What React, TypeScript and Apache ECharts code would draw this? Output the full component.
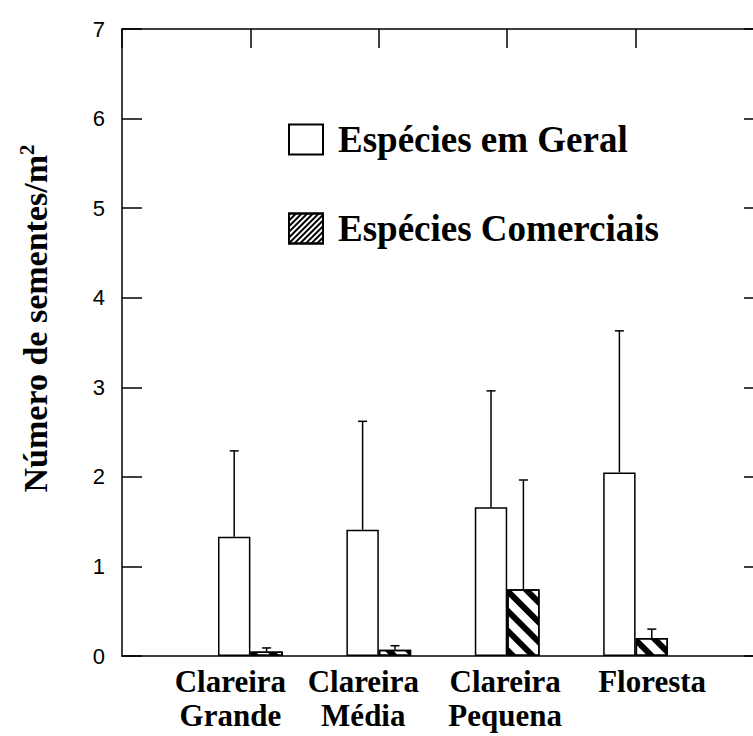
import React, { useEffect, useRef } from "react";
import * as echarts from "echarts";

// Seed density per habitat (mean and upper limit of the error bar)
const categories = ["Clareira\nGrande", "Clareira\nMédia", "Clareira\nPequena", "Floresta"];
const positions = [1, 2, 3, 4];
const geralMean = [1.33, 1.41, 1.66, 2.05];
const geralUpper = [2.29, 2.62, 2.96, 3.63];
const comerciaisMean = [0.05, 0.07, 0.745, 0.2];
const comerciaisUpper = [0.09, 0.115, 1.965, 0.3];
const yTicks = [0, 1, 2, 3, 4, 5, 6, 7];

const serif = "'Liberation Serif', 'Times New Roman', serif";
const sans = "'Liberation Sans', Arial, Helvetica, sans-serif";
const BAR_W = 32.4;

// horizontal nudge (px) of each category caption from its tick position
const labelShift = [-20, -15.5, -2, 16.5];

const barDecal = {
  symbol: "rect",
  symbolSize: 1,
  dashArrayX: [1, 0],
  dashArrayY: [6, 8],
  rotation: Math.PI / 4,
  color: "#000",
  backgroundColor: "#fff",
};

const legendDecal = {
  symbol: "rect",
  symbolSize: 1,
  dashArrayX: [1, 0],
  dashArrayY: [1.5, 2],
  rotation: -Math.PI / 4,
  color: "#000",
  backgroundColor: "#fff",
};

function errorSeries(mean: number[], upper: number[], offset: number) {
  return {
    type: "custom",
    xAxisIndex: 0,
    yAxisIndex: 0,
    z: 5,
    silent: true,
    data: positions.map((p, i) => [p, mean[i], upper[i]]),
    renderItem: (_params: any, api: any) => {
      const x = api.value(0);
      const base = api.coord([x, api.value(1)]);
      const top = api.coord([x, api.value(2)]);
      const cx = base[0] + offset;
      const style = { stroke: "#000", lineWidth: 1.5 };
      return {
        type: "group",
        children: [
          { type: "line", shape: { x1: cx, y1: base[1], x2: cx, y2: top[1] }, style },
          { type: "line", shape: { x1: cx - 4.5, y1: top[1], x2: cx + 4.5, y2: top[1] }, style },
        ],
      };
    },
  };
}

const axisLineStyle = { color: "#000", width: 1.5 };

export default function App() {
  const ref = useRef<HTMLDivElement>(null);

  useEffect(() => {
    if (!ref.current) return;
    const chart = echarts.init(ref.current, null, { renderer: "svg" });

    chart.setOption({
      animation: false,
      backgroundColor: "#fff",
      grid: { left: 122, top: 29, width: 642, height: 627 },
      legend: {
        orient: "vertical",
        left: 283,
        top: 116,
        itemWidth: 34,
        itemHeight: 30,
        itemGap: 52,
        selectedMode: false,
        textStyle: {
          fontFamily: serif,
          fontWeight: "bold",
          fontSize: 37,
          color: "#000",
          padding: [0, 0, 0, 10],
        },
        data: [
          { name: "Espécies em Geral", icon: "rect" },
          { name: "Espécies Comerciais", icon: "rect", itemStyle: { decal: legendDecal } },
        ],
      },
      xAxis: [
        {
          type: "value",
          position: "bottom",
          min: 0,
          max: 5,
          interval: 1,
          splitLine: { show: false },
          axisLine: { show: true, onZero: false, lineStyle: axisLineStyle },
          axisTick: { show: false },
          axisLabel: { show: false },
        },
        {
          type: "value",
          position: "top",
          min: 0,
          max: 5,
          interval: 1,
          splitLine: { show: false },
          axisLine: { show: true, onZero: false, lineStyle: axisLineStyle },
          axisTick: { show: true, inside: true, length: 19, lineStyle: axisLineStyle },
          axisLabel: { show: false },
        },
      ],
      yAxis: [
        {
          type: "value",
          position: "left",
          min: 0,
          max: 7,
          interval: 1,
          splitLine: { show: false },
          axisLine: { show: true, onZero: false, lineStyle: axisLineStyle },
          axisTick: { show: true, inside: true, length: 20, lineStyle: axisLineStyle },
          axisLabel: {
            margin: 17,
            fontFamily: sans,
            fontSize: 22,
            color: "#000",
            formatter: (v: number) => (yTicks.includes(v) ? String(v) : ""),
          },
          name: "{t|Número de sementes/m}{s|2}",
          nameLocation: "middle",
          nameGap: 68,
          nameRotate: 90,
          nameTextStyle: {
            padding: [0, 0, 0, 48],
            rich: {
              t: { fontFamily: serif, fontWeight: "bold", fontSize: 34, lineHeight: 38, color: "#000" },
              s: { fontFamily: serif, fontWeight: "bold", fontSize: 21, lineHeight: 38, verticalAlign: "top", color: "#000" },
            },
          },
        },
        {
          type: "value",
          position: "right",
          min: 0,
          max: 7,
          interval: 1,
          splitLine: { show: false },
          axisLine: { show: true, onZero: false, lineStyle: axisLineStyle },
          axisTick: { show: true, inside: true, length: 20, lineStyle: axisLineStyle },
          axisLabel: { show: false },
        },
      ],
      series: [
        {
          name: "Espécies em Geral",
          type: "bar",
          xAxisIndex: 0,
          yAxisIndex: 0,
          barWidth: BAR_W,
          barGap: "0%",
          data: positions.map((p, i) => [p, geralMean[i]]),
          itemStyle: { color: "#fff", borderColor: "#000", borderWidth: 1.5 },
        },
        {
          name: "Espécies Comerciais",
          type: "bar",
          xAxisIndex: 0,
          yAxisIndex: 0,
          barWidth: BAR_W,
          barGap: "0%",
          data: positions.map((p, i) => [p, comerciaisMean[i]]),
          itemStyle: { color: "#fff", borderColor: "#000", borderWidth: 1.5, decal: barDecal },
        },
        errorSeries(geralMean, geralUpper, -BAR_W / 2),
        errorSeries(comerciaisMean, comerciaisUpper, BAR_W / 2),
      ],
    });

    // category captions under the axis, placed from the axis scale
    const baseY = chart.convertToPixel({ yAxisIndex: 0 }, 0) as number;
    chart.setOption({
      graphic: positions.map((p, i) => ({
        type: "text",
        x: (chart.convertToPixel({ xAxisIndex: 0 }, p) as number) + labelShift[i],
        y: baseY + 8,
        style: {
          text: categories[i],
          fill: "#000",
          fontFamily: serif,
          fontWeight: "bold",
          fontSize: 31,
          lineHeight: 34,
          align: "center",
          verticalAlign: "top",
        },
      })),
    });

    return () => chart.dispose();
  }, []);

  // the plot frame runs past the right edge of the visible area, so the
  // chart canvas is wider than its clipping box
  return (
    <div
      style={{
        position: "fixed",
        left: 0,
        top: 0,
        width: 753,
        height: 736,
        overflow: "hidden",
        background: "#fff",
      }}
    >
      <div ref={ref} style={{ width: 780, height: 736 }} />
    </div>
  );
}
